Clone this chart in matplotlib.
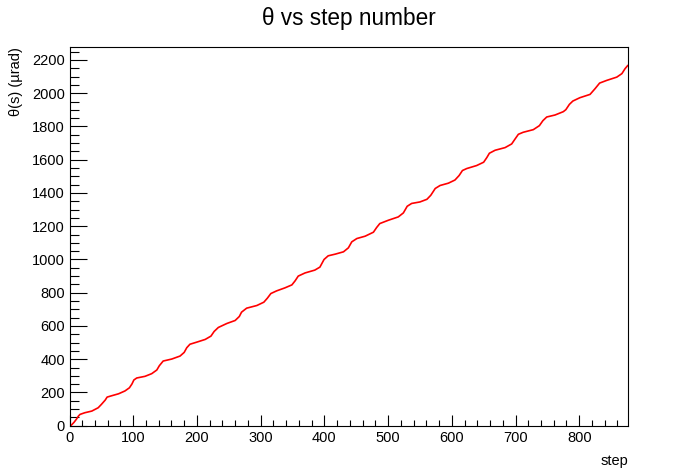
import matplotlib
matplotlib.use("Agg")
import matplotlib.pyplot as plt
from matplotlib.ticker import MultipleLocator

plt.rcParams['font.family'] = ['Liberation Sans', 'DejaVu Sans']

# step values
step = [0, 2, 7, 11, 14, 16.5, 24, 35, 45, 50, 56, 59, 66, 77, 87, 94, 98, 101, 105.5,
        118.5, 129, 137, 141, 147, 160.5, 173.5, 180, 184, 189, 200, 213, 222, 227,
        233.6, 247, 260, 266.5, 270, 278, 294, 305, 310.5, 316, 325, 338, 349, 354,
        359, 369.7, 385, 393, 399.5, 406, 417, 430, 437.7, 443, 451, 464, 477, 482,
        487, 500.5, 516, 524, 530, 537, 550, 561, 567, 574, 581.6, 594.7, 605, 611.5,
        616.7, 623.5, 639, 650, 655, 659, 668, 683.7, 694, 699, 704.5, 712, 728,
        737.5, 743, 749, 762, 775, 779, 784.6, 790, 801, 817, 825, 832, 843, 859,
        867, 872, 876]
theta = [0, 0, 20, 40, 58, 68, 78, 88, 108, 128, 154, 172, 180, 192, 209, 228, 251, 275, 287,
         297, 313, 335, 361, 389, 401, 419, 441, 469, 490, 503, 519, 539, 567,
         591, 615, 633, 657, 683, 707, 723, 743, 767, 795, 811, 829, 847, 871,
         900, 919, 936, 954, 1000, 1022, 1032, 1046, 1070, 1106, 1126, 1140, 1164, 1192,
         1216, 1236, 1256, 1280, 1320, 1337, 1346, 1362, 1386, 1427, 1445, 1459, 1478, 1505,
         1535, 1547, 1565, 1585, 1613, 1639, 1657, 1673, 1695, 1723, 1753, 1765, 1781,
         1805, 1835, 1857, 1869, 1889, 1901, 1933, 1953, 1973, 1993, 2028, 2061, 2077, 2097,
         2118, 2148, 2166]

fig = plt.figure(figsize=(6.98, 4.74), dpi=100)
ax = fig.add_axes([0.0996, 0.1019, 0.9001 - 0.0996, 0.9008 - 0.1019])

ax.plot(step, theta, color='red', lw=1.2)

ax.set_xlim(0, 877)
ax.set_ylim(0, 2278)

ax.xaxis.set_major_locator(MultipleLocator(100))
ax.xaxis.set_minor_locator(MultipleLocator(20))
ax.yaxis.set_major_locator(MultipleLocator(200))
ax.yaxis.set_minor_locator(MultipleLocator(50))

ax.tick_params(axis='both', which='both', direction='in', top=False, right=False,
               labelsize=10.5, width=0.8)
ax.tick_params(axis='x', which='major', length=8, pad=4)
ax.tick_params(axis='x', which='minor', length=4.3)
ax.tick_params(axis='y', which='major', length=12.3, pad=3.3)
ax.tick_params(axis='y', which='minor', length=6.3)

for sp in ax.spines.values():
    sp.set_linewidth(0.8)

ax.set_title('θ vs step number', fontsize=16.3, pad=16)
ax.set_xlabel('step', loc='right', fontsize=10.5)
ax.xaxis.set_label_coords(1.0, -0.075)
ax.xaxis.label.set_horizontalalignment('right')
ax.set_ylabel('θ(s) (µrad)', loc='top', fontsize=10.5)
ax.yaxis.set_label_coords(-0.083, 1.0)

fig.savefig('out.png', dpi=100)
